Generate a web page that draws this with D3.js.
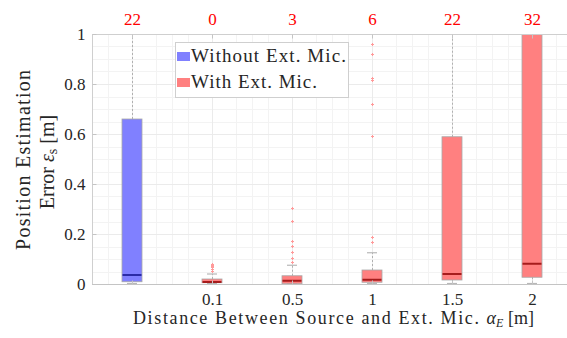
<!DOCTYPE html>
<html>
<head>
<meta charset="utf-8">
<script src="https://cdn.jsdelivr.net/npm/d3@7"></script>
<style>
  body { margin: 0; background: #fff; }
  svg text { font-family: "Liberation Serif", "DejaVu Serif", serif !important; }
</style>
</head>
<body>
<script>
// Data
var positions = [1, 2, 3, 4, 5, 6];
var tickLabels = ["", "0.1", "0.5", "1", "1.5", "2"];
var groups = ["without", "with", "with", "with", "with", "with"];
var q1 = [0.009, 0.005, 0.001, 0.007, 0.016, 0.027];
var median = [0.036, 0.008, 0.013, 0.017, 0.040, 0.081];
var q3 = [0.660, 0.020, 0.033, 0.056, 0.589, 1.300];
var whiskerLow = [0.0, 0.0, 0.0, 0.0, 0.0, 0.0];
var whiskerHigh = [1.6, 0.040, 0.075, 0.125, 1.45, 2.0];
var outliers = [
  [],
  [0.051, 0.059, 0.067, 0.071, 0.075, 0.079],
  [0.088, 0.104, 0.127, 0.151, 0.173, 0.251, 0.303],
  [0.167, 0.189, 0.592, 0.720, 0.816, 0.825, 0.919, 0.960],
  [],
  []
];
var overCount = [22, 0, 3, 6, 22, 32];
var legendLabels = ["Without Ext. Mic.", "With Ext. Mic."];
var yTicks = [0, 0.2, 0.4, 0.6, 0.8, 1];

(function() {
var width = 567, height = 338;
var mLeft = 92, mRight = 572, mTop = 34, mBottom = 284;
var serif = "'Liberation Serif', 'DejaVu Serif', serif";

var fill = { without: "#8080ff", with: "#ff8080" };
var medianColor = { without: "#2b2ba6", with: "#a61c1c" };
var ink = "#262626";

var x = d3.scaleLinear().domain([0.5, 6.5]).range([mLeft, mRight]);
var y = d3.scaleLinear().domain([0, 1]).range([mBottom, mTop]);
var boxW = x(1.25) - x(1);

var svg = d3.select("body").append("svg")
    .attr("width", width)
    .attr("height", height)
    .style("font-family", serif);

svg.append("defs").append("clipPath").attr("id", "plotclip")
  .append("rect")
    .attr("x", mLeft).attr("y", mTop)
    .attr("width", mRight - mLeft).attr("height", mBottom - mTop);

// grid
var grid = svg.append("g");
var minorY = d3.range(1, 20).map(function(k) { return k * 0.05; })
    .filter(function(k, i) { return (i + 1) % 4 !== 0; });
grid.selectAll(".ymin").data(minorY).enter().append("line")
    .attr("x1", mLeft).attr("x2", mRight)
    .attr("y1", function(d) { return Math.round(y(d)) + 0.5; }).attr("y2", function(d) { return Math.round(y(d)) + 0.5; })
    .attr("stroke", "#f3f3f3");
var minorX = [];
positions.forEach(function(p) { minorX.push(p - 0.3, p + 0.3, p + 0.5); });
grid.selectAll(".xmin").data(minorX).enter().append("line")
    .attr("y1", mTop).attr("y2", mBottom)
    .attr("x1", function(d) { return Math.round(x(d)) + 0.5; }).attr("x2", function(d) { return Math.round(x(d)) + 0.5; })
    .attr("stroke", "#f3f3f3");
grid.selectAll(".ymaj").data(yTicks).enter().append("line")
    .attr("x1", mLeft).attr("x2", mRight)
    .attr("y1", function(d) { return y(d) + 0.5; }).attr("y2", function(d) { return y(d) + 0.5; })
    .attr("stroke", "#ebebeb");
grid.selectAll(".xmaj").data(positions).enter().append("line")
    .attr("y1", mTop).attr("y2", mBottom)
    .attr("x1", function(d) { return x(d) + 0.5; }).attr("x2", function(d) { return x(d) + 0.5; })
    .attr("stroke", "#ebebeb");

// boxes
var plot = svg.append("g").attr("clip-path", "url(#plotclip)");
var g = plot.selectAll(".box").data(positions).enter().append("g");

g.append("line")
    .attr("x1", function(d) { return x(d) + 0.5; }).attr("x2", function(d) { return x(d) + 0.5; })
    .attr("y1", function(d, i) { return y(q3[i]); })
    .attr("y2", function(d, i) { return y(whiskerHigh[i]); })
    .attr("stroke", "#b0b0b0").attr("stroke-dasharray", "2,2");
g.append("line")
    .attr("x1", function(d) { return x(d) + 0.5; }).attr("x2", function(d) { return x(d) + 0.5; })
    .attr("y1", function(d, i) { return y(q1[i]); })
    .attr("y2", function(d, i) { return y(whiskerLow[i]); })
    .attr("stroke", "#b0b0b0").attr("stroke-dasharray", "2,2");
g.append("line")
    .attr("x1", function(d) { return x(d) - boxW / 4; }).attr("x2", function(d) { return x(d) + boxW / 4; })
    .attr("y1", function(d, i) { return y(whiskerHigh[i]); })
    .attr("y2", function(d, i) { return y(whiskerHigh[i]); })
    .attr("stroke", "#b8b8b8").attr("stroke-width", 1.2);
g.append("line")
    .attr("x1", function(d) { return x(d) - boxW / 4; }).attr("x2", function(d) { return x(d) + boxW / 4; })
    .attr("y1", function(d, i) { return y(whiskerLow[i]) - 0.5; })
    .attr("y2", function(d, i) { return y(whiskerLow[i]) - 0.5; })
    .attr("stroke", "#b8b8b8").attr("stroke-width", 1.2);

g.append("rect")
    .attr("x", function(d) { return x(d) - boxW / 2; })
    .attr("width", boxW)
    .attr("y", function(d, i) { return y(q3[i]); })
    .attr("height", function(d, i) { return y(q1[i]) - y(q3[i]); })
    .attr("fill", function(d, i) { return fill[groups[i]]; })
    .attr("stroke", "#a8a8a8").attr("stroke-width", 0.8);
g.append("line")
    .attr("x1", function(d) { return x(d) - boxW / 2 + 0.5; }).attr("x2", function(d) { return x(d) + boxW / 2 - 0.5; })
    .attr("y1", function(d, i) { return y(median[i]); })
    .attr("y2", function(d, i) { return y(median[i]); })
    .attr("stroke", function(d, i) { return medianColor[groups[i]]; })
    .attr("stroke-width", 2);

g.each(function(d, i) {
  d3.select(this).selectAll(".out").data(outliers[i]).enter().append("path")
      .attr("d", function(v) {
        var cx = x(d) + 0.5, cy = Math.round(y(v)) + 0.5;
        return "M" + (cx - 1.5) + "," + cy + "H" + (cx + 1.5) + "M" + cx + "," + (cy - 1.5) + "V" + (cy + 1.5);
      })
      .attr("stroke", "#ff9a9a").attr("stroke-width", 1);
});

// frame
svg.append("rect")
    .attr("x", mLeft + 0.5).attr("y", mTop + 0.5)
    .attr("width", mRight - mLeft).attr("height", mBottom - mTop)
    .attr("fill", "none").attr("stroke", "#cfcfcf");
svg.append("line").attr("x1", mLeft).attr("x2", mRight)
    .attr("y1", mBottom + 0.5).attr("y2", mBottom + 0.5)
    .attr("stroke", "#c4c4c4");

// axes
function styleAxis(sel, color) {
  sel.attr("font-family", serif);
  sel.select(".domain").remove();
  sel.selectAll("line").attr("stroke", "#c4c4c4");
  sel.selectAll("text").attr("font-size", 17).attr("fill", color)
      .style("font-family", serif);
}

var yAxis = d3.axisLeft(y).tickValues(yTicks).tickSize(-4)
    .tickFormat(function(d) { return d === 0 || d === 1 ? d3.format("d")(d) : d3.format(".1f")(d); })
    .tickPadding(7);
var ya = svg.append("g").attr("transform", "translate(" + (mLeft + 0.5) + ",0)").call(yAxis);
styleAxis(ya, ink);

var xAxis = d3.axisBottom(x).tickValues(positions).tickSize(-4)
    .tickFormat(function(d, i) { return tickLabels[i]; })
    .tickPadding(8);
var xa = svg.append("g").attr("transform", "translate(0," + (mBottom + 0.5) + ")").call(xAxis);
styleAxis(xa, ink);

var xTop = d3.axisTop(x).tickValues(positions).tickSize(-4)
    .tickFormat(function(d, i) { return overCount[i]; })
    .tickPadding(10);
var xt = svg.append("g").attr("transform", "translate(0," + (mTop + 0.5) + ")").call(xTop);
styleAxis(xt, "#ff0000");

// axis titles
var xl = svg.append("text")
    .attr("x", 133).attr("y", 324)
    .attr("font-size", 18).attr("fill", ink);
xl.append("tspan").text("Distance Between Source and Ext. Mic. ")
    .attr("textLength", 352).attr("lengthAdjust", "spacing");
xl.append("tspan").attr("font-style", "italic").text("α");
xl.append("tspan").attr("font-style", "italic").attr("font-size", 12).attr("dy", 3).text("E");
xl.append("tspan").attr("dy", -3).text(" [m]");

var yl = svg.append("g").attr("transform", "translate(0,160) rotate(-90)");
yl.append("text").attr("x", 0).attr("y", 30)
    .attr("text-anchor", "middle")
    .attr("font-size", 20).attr("fill", ink)
    .attr("textLength", 180).attr("lengthAdjust", "spacing")
    .text("Position Estimation");
var yl2 = yl.append("text").attr("x", -2).attr("y", 54)
    .attr("text-anchor", "middle")
    .attr("font-size", 20).attr("fill", ink);
yl2.append("tspan").text("Error ");
yl2.append("tspan").attr("font-style", "italic").text("ε");
yl2.append("tspan").attr("font-size", 14).attr("dy", 3).text("s");
yl2.append("tspan").attr("dy", -3).text(" [m]");

// legend
var lg = svg.append("g");
lg.append("rect")
    .attr("x", 175.5).attr("y", 42.5).attr("width", 173).attr("height", 55)
    .attr("fill", "#fff").attr("stroke", "#cfcfcf");
var li = lg.selectAll(".li").data(legendLabels).enter().append("g")
    .attr("transform", function(d, i) { return "translate(0," + (i * 26) + ")"; });
li.append("rect")
    .attr("x", 177).attr("y", 52).attr("width", 13).attr("height", 9)
    .attr("fill", function(d, i) { return i === 0 ? fill.without : fill.with; });
li.append("text")
    .attr("x", 191).attr("y", 62)
    .attr("font-size", 19).attr("fill", ink)
    .attr("textLength", function(d, i) { return i === 0 ? 155 : 126; })
    .attr("lengthAdjust", "spacing")
    .text(function(d) { return d; });
})();
</script>
</body>
</html>
